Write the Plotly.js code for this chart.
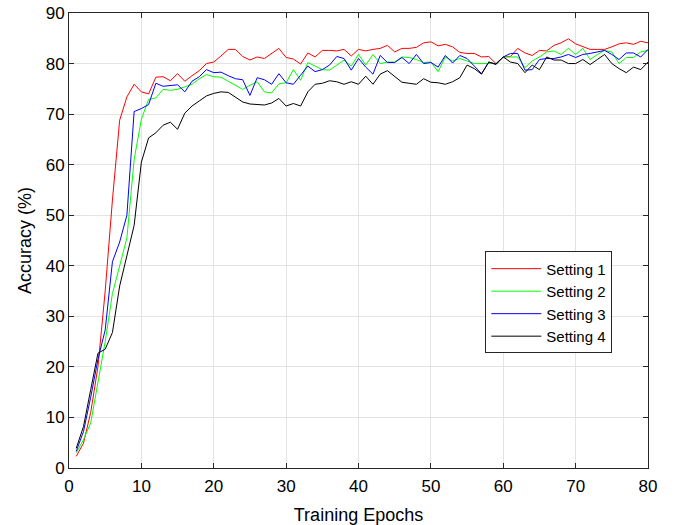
<!DOCTYPE html>
<html>
<head>
<meta charset="utf-8">
<script src="https://cdn.plot.ly/plotly-3.0.1.min.js"></script>
<style>html,body{margin:0;padding:0;background:#fff;}#chart{width:681px;height:525px;}</style>
</head>
<body>
<div id="chart"></div>
<script>
const seriesNames = ["Setting 1", "Setting 2", "Setting 3", "Setting 4"];
const seriesColors = ["#ff0000", "#00ff00", "#0000ff", "#000000"];

const setting1 = [2.3,4.9,11,20,35,53,68.8,73.4,75.9,74.4,74.0,77.3,77.4,76.6,78,76.5,77.6,78.6,80,80.3,
  81.5,82.8,82.8,81.4,80.7,81.3,81,82,83,81.2,80.9,79.9,82.1,81.3,82.6,82.6,82.5,82.8,81.5,82.8,
  82.5,82.8,83,83.6,82.3,83,83,83.2,84.1,84.3,83.5,83.8,83.3,82.2,82,82,81.3,81.4,80,81.3,
  81.4,83,82.1,81.6,82.6,82.5,83.6,84.1,84.9,83.9,83.3,82.8,82.8,82.8,83.3,83.9,84.1,83.8,84.4,84.1];
const setting2 = [3,5.6,8.9,16.8,25,34.5,40,45.5,61,69,72.9,73.2,74.9,74.7,74.9,75.4,75.9,77,77.8,77.4,
  77.3,76.5,75.7,74.9,75.7,76.4,74.4,74.2,76,76.2,78.8,76.7,80.2,79.5,78.8,78.7,79.7,80.7,79.5,81.8,
  79.7,81.8,80,80.3,80.3,81.3,81.2,80.8,80.2,80.3,78.4,81.3,80.5,81,80.5,80,80,80,80,81.3,
  81.3,81.3,79.2,80.5,81.3,82.3,82.5,81.8,83,81.8,83,80.8,81.8,82.6,82.3,80,81.2,81.2,82.3,82.6];
const setting3 = [3.3,7.2,14,21.5,27.3,40.8,44.7,50,70.5,71.1,71.9,76.1,75.5,75.6,75.8,74.4,76.5,77.4,78.8,78.2,
  78.3,77.6,77,76.8,73.7,77.2,76.8,75.9,78,76.2,75.9,77.7,79.5,78.4,78.8,79.7,81.4,81,78.7,81,
  79.3,77.9,81.6,80.2,80.2,81.2,80,81.8,80,80.2,79.3,81.6,80.1,81.6,81,79.5,78,80.3,79.8,81.3,
  82,82,78.7,78.8,80.8,81,81,81.3,81.8,81.2,81.8,82,82.3,82.6,81.8,80.8,82.1,82.1,81.3,82.8];
const setting4 = [3.9,8.2,15.5,22.7,23.5,26.8,36,42,48,60.5,65.3,66.3,67.8,68.4,67,70.2,71.6,72.6,73.6,74.1,
  74.4,74.3,73.4,72.4,72,71.9,71.8,72.2,73.1,71.6,72.1,71.6,74.4,75.9,76.1,76.6,76.4,75.9,76.4,75.9,
  77.5,75.9,77.9,78.6,77.4,76.3,76.1,75.9,77,76.3,76.2,75.9,76.4,77.2,79.7,79,77.9,80.3,79.9,81.3,
  80.3,80,78.2,79.7,78.8,81.3,80.7,80.7,80,80,80.8,79.8,80.8,81.8,80,79,78.2,79.3,78.8,80.3];
const epochs = setting1.map((_, i) => i + 1);

const xTicks = [0,10,20,30,40,50,60,70,80];
const yTicks = [0,10,20,30,40,50,60,70,80,90];

const allSeries = [setting1, setting2, setting3, setting4];
const traces = allSeries.map((ys, i) => ({
  x: epochs, y: ys, type: "scatter", mode: "lines",
  name: seriesNames[i],
  line: {color: seriesColors[i], width: 1}
}));

const fontFam = "Liberation Sans, Arial, sans-serif";
const axisCommon = {
  showline: true, linecolor: "#262626", linewidth: 1, mirror: "ticks",
  ticks: "inside", ticklen: 5, tickcolor: "#262626", tickwidth: 1,
  showgrid: true, gridcolor: "#e3e3e3", gridwidth: 1, zeroline: false,
  tickfont: {family: fontFam, size: 17, color: "#000"}
};

const layout = {
  width: 681, height: 525,
  margin: {l: 69, r: 33, t: 13, b: 57},
  paper_bgcolor: "#fff", plot_bgcolor: "#fff",
  showlegend: true,
  xaxis: Object.assign({}, axisCommon, {
    range: [0, 80], tickvals: xTicks, ticktext: xTicks.map(String),
    ticklabelstandoff: 3,
    title: {text: "Training Epochs", font: {family: fontFam, size: 18, color: "#000"}, standoff: 13}
  }),
  yaxis: Object.assign({}, axisCommon, {
    range: [0, 90], tickvals: yTicks, ticktext: yTicks.map(String),
    title: {text: "Accuracy (%)", font: {family: fontFam, size: 18, color: "#000"}, standoff: 9}
  }),
  legend: {
    x: 0.719, y: 0.476, xanchor: "left", yanchor: "top",
    bgcolor: "#fff", bordercolor: "#262626", borderwidth: 1,
    font: {family: fontFam, size: 15, color: "#000"},
    itemwidth: 50, tracegroupgap: 0
  }
};

Plotly.newPlot("chart", traces, layout, {displayModeBar: false, staticPlot: true});
</script>
</body>
</html>
